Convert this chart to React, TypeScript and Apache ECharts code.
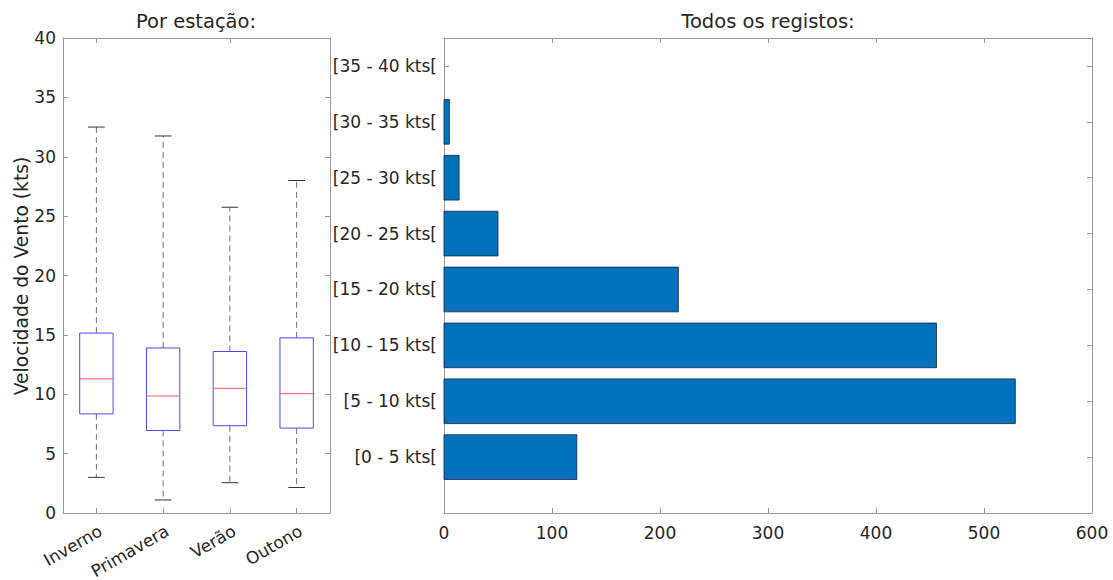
import React, { useEffect, useRef } from "react";
import * as echarts from "echarts";

// Wind speed per season (kts): whisker ends, quartiles and median
const seasons = ["Inverno", "Primavera", "Verão", "Outono"];
const whiskerLow = [3.0, 1.1, 2.55, 2.15];
const quartile1 = [8.35, 6.95, 7.35, 7.15];
const median = [11.3, 9.85, 10.5, 10.05];
const quartile3 = [15.15, 13.9, 13.6, 14.75];
const whiskerHigh = [32.5, 31.75, 25.75, 28.0];

// Count of all records per wind speed class
const speedBins = [
  "[0 - 5 kts[",
  "[5 - 10 kts[",
  "[10 - 15 kts[",
  "[15 - 20 kts[",
  "[20 - 25 kts[",
  "[25 - 30 kts[",
  "[30 - 35 kts[",
  "[35 - 40 kts[",
];
const binCounts = [123, 529, 456, 217, 50, 14, 5, 0];

const FONT = "DejaVu Sans";
const TEXT = "#262626";
const AXIS = "#9a9a9a";
const TICK_FONT = 17;

const axisLine = { show: true, onZero: false, lineStyle: { color: AXIS, width: 1 } };
const axisTick = { show: true, inside: true, length: 5, lineStyle: { color: AXIS } };
const tickLabel = { color: TEXT, fontFamily: FONT, fontSize: TICK_FONT };

function buildOption(): echarts.EChartsOption {
  return {
    animation: false,
    backgroundColor: "#ffffff",
    grid: [
      { left: 63, top: 38, width: 267, height: 475, outerBoundsMode: "none" },
      { left: 444, top: 38, width: 648, height: 475, outerBoundsMode: "none" },
    ],
    xAxis: [
      {
        gridIndex: 0,
        type: "category",
        data: seasons,
        position: "bottom",
        axisLine,
        axisTick: { ...axisTick, alignWithLabel: true },
        axisLabel: {
          ...tickLabel,
          rotate: 30,
          margin: 9,
          interval: 0,
          verticalAlign: "top",
        },
        splitLine: { show: false },
      },
      {
        gridIndex: 0,
        type: "category",
        data: seasons,
        position: "top",
        axisLine,
        axisTick: { ...axisTick, alignWithLabel: true },
        axisLabel: { show: false },
        splitLine: { show: false },
      },
      {
        gridIndex: 1,
        type: "value",
        min: 0,
        max: 600,
        interval: 100,
        position: "bottom",
        axisLine,
        axisTick,
        axisLabel: { ...tickLabel, margin: 11 },
        splitLine: { show: false },
      },
      {
        gridIndex: 1,
        type: "value",
        min: 0,
        max: 600,
        interval: 100,
        position: "top",
        axisLine,
        axisTick,
        axisLabel: { show: false },
        splitLine: { show: false },
      },
    ],
    yAxis: [
      {
        gridIndex: 0,
        type: "value",
        min: 0,
        max: 40,
        interval: 5,
        position: "left",
        axisLine,
        axisTick,
        axisLabel: { ...tickLabel, margin: 7 },
        splitLine: { show: false },
      },
      {
        gridIndex: 0,
        type: "value",
        min: 0,
        max: 40,
        interval: 5,
        position: "right",
        axisLine,
        axisTick,
        axisLabel: { show: false },
        splitLine: { show: false },
      },
      {
        gridIndex: 1,
        type: "value",
        min: 0,
        max: 8.5,
        interval: 1,
        position: "left",
        axisLine,
        axisTick,
        axisLabel: {
          ...tickLabel,
          margin: 7,
          formatter: (v: number) =>
            Number.isInteger(v) && v >= 1 && v <= speedBins.length ? speedBins[v - 1] : "",
        },
        splitLine: { show: false },
      },
      {
        gridIndex: 1,
        type: "value",
        min: 0,
        max: 8.5,
        interval: 1,
        position: "right",
        axisLine,
        axisTick,
        axisLabel: { show: false },
        splitLine: { show: false },
      },
    ],
    series: [
      {
        type: "custom",
        xAxisIndex: 0,
        yAxisIndex: 0,
        data: seasons.map((_, i) => [
          i,
          whiskerLow[i],
          quartile1[i],
          median[i],
          quartile3[i],
          whiskerHigh[i],
        ]),
        encode: { x: 0, y: [1, 2, 3, 4, 5] },
        renderItem: (_params: any, api: any) => {
          const i = api.value(0);
          const band = api.size([1, 0])[0];
          const boxW = band * 0.5;
          const capW = band * 0.25;
          const cx = api.coord([i, 0])[0];
          const yLow = api.coord([i, api.value(1)])[1];
          const yQ1 = api.coord([i, api.value(2)])[1];
          const yMed = api.coord([i, api.value(3)])[1];
          const yQ3 = api.coord([i, api.value(4)])[1];
          const yHigh = api.coord([i, api.value(5)])[1];
          const dashed = { stroke: "#707070", lineWidth: 1, lineDash: [6, 4] };
          const cap = { stroke: "#333333", lineWidth: 1 };
          return {
            type: "group",
            children: [
              { type: "line", shape: { x1: cx, y1: yQ3, x2: cx, y2: yHigh }, style: dashed },
              { type: "line", shape: { x1: cx, y1: yQ1, x2: cx, y2: yLow }, style: dashed },
              {
                type: "line",
                shape: { x1: cx - capW / 2, y1: yHigh, x2: cx + capW / 2, y2: yHigh },
                style: cap,
              },
              {
                type: "line",
                shape: { x1: cx - capW / 2, y1: yLow, x2: cx + capW / 2, y2: yLow },
                style: cap,
              },
              {
                type: "rect",
                shape: { x: cx - boxW / 2, y: yQ3, width: boxW, height: yQ1 - yQ3 },
                style: { fill: "none", stroke: "#4a4aff", lineWidth: 1 },
              },
              {
                type: "line",
                shape: { x1: cx - boxW / 2, y1: yMed, x2: cx + boxW / 2, y2: yMed },
                style: { stroke: "#ff5c5c", lineWidth: 1 },
              },
            ],
          };
        },
      },
      {
        type: "custom",
        xAxisIndex: 2,
        yAxisIndex: 2,
        data: binCounts.map((c, i) => [c, i + 1]),
        encode: { x: 0, y: 1 },
        renderItem: (_params: any, api: any) => {
          const v = api.value(0);
          const pos = api.value(1);
          if (!v) return { type: "group", children: [] };
          const start = api.coord([0, pos]);
          const end = api.coord([v, pos]);
          const h = api.size([0, 0.8])[1];
          return {
            type: "rect",
            shape: { x: start[0], y: start[1] - h / 2, width: end[0] - start[0], height: h },
            style: { fill: "#0072BD", stroke: "#1a2433", lineWidth: 0.8 },
          };
        },
      },
    ],
    graphic: [
      {
        type: "text",
        x: 196,
        y: 21,
        style: {
          text: "Por estação:",
          fontFamily: FONT,
          fontSize: 19.5,
          fill: TEXT,
          align: "center",
          verticalAlign: "middle",
        },
      },
      {
        type: "text",
        x: 768,
        y: 21,
        style: {
          text: "Todos os registos:",
          fontFamily: FONT,
          fontSize: 19.5,
          fill: TEXT,
          align: "center",
          verticalAlign: "middle",
        },
      },
      {
        type: "text",
        x: 21,
        y: 276,
        rotation: Math.PI / 2,
        style: {
          text: "Velocidade do Vento (kts)",
          fontFamily: FONT,
          fontSize: 18.7,
          fill: TEXT,
          align: "center",
          verticalAlign: "middle",
        },
      },
    ],
  } as echarts.EChartsOption;
}

export default function App() {
  const ref = useRef<HTMLDivElement>(null);
  useEffect(() => {
    if (!ref.current) return;
    const chart = echarts.init(ref.current, null, { renderer: "svg" });
    chart.setOption(buildOption());
    return () => chart.dispose();
  }, []);
  return (
    <div
      ref={ref}
      style={{ position: "fixed", left: 0, top: 0, width: 1113, height: 580, background: "#fff" }}
    />
  );
}
